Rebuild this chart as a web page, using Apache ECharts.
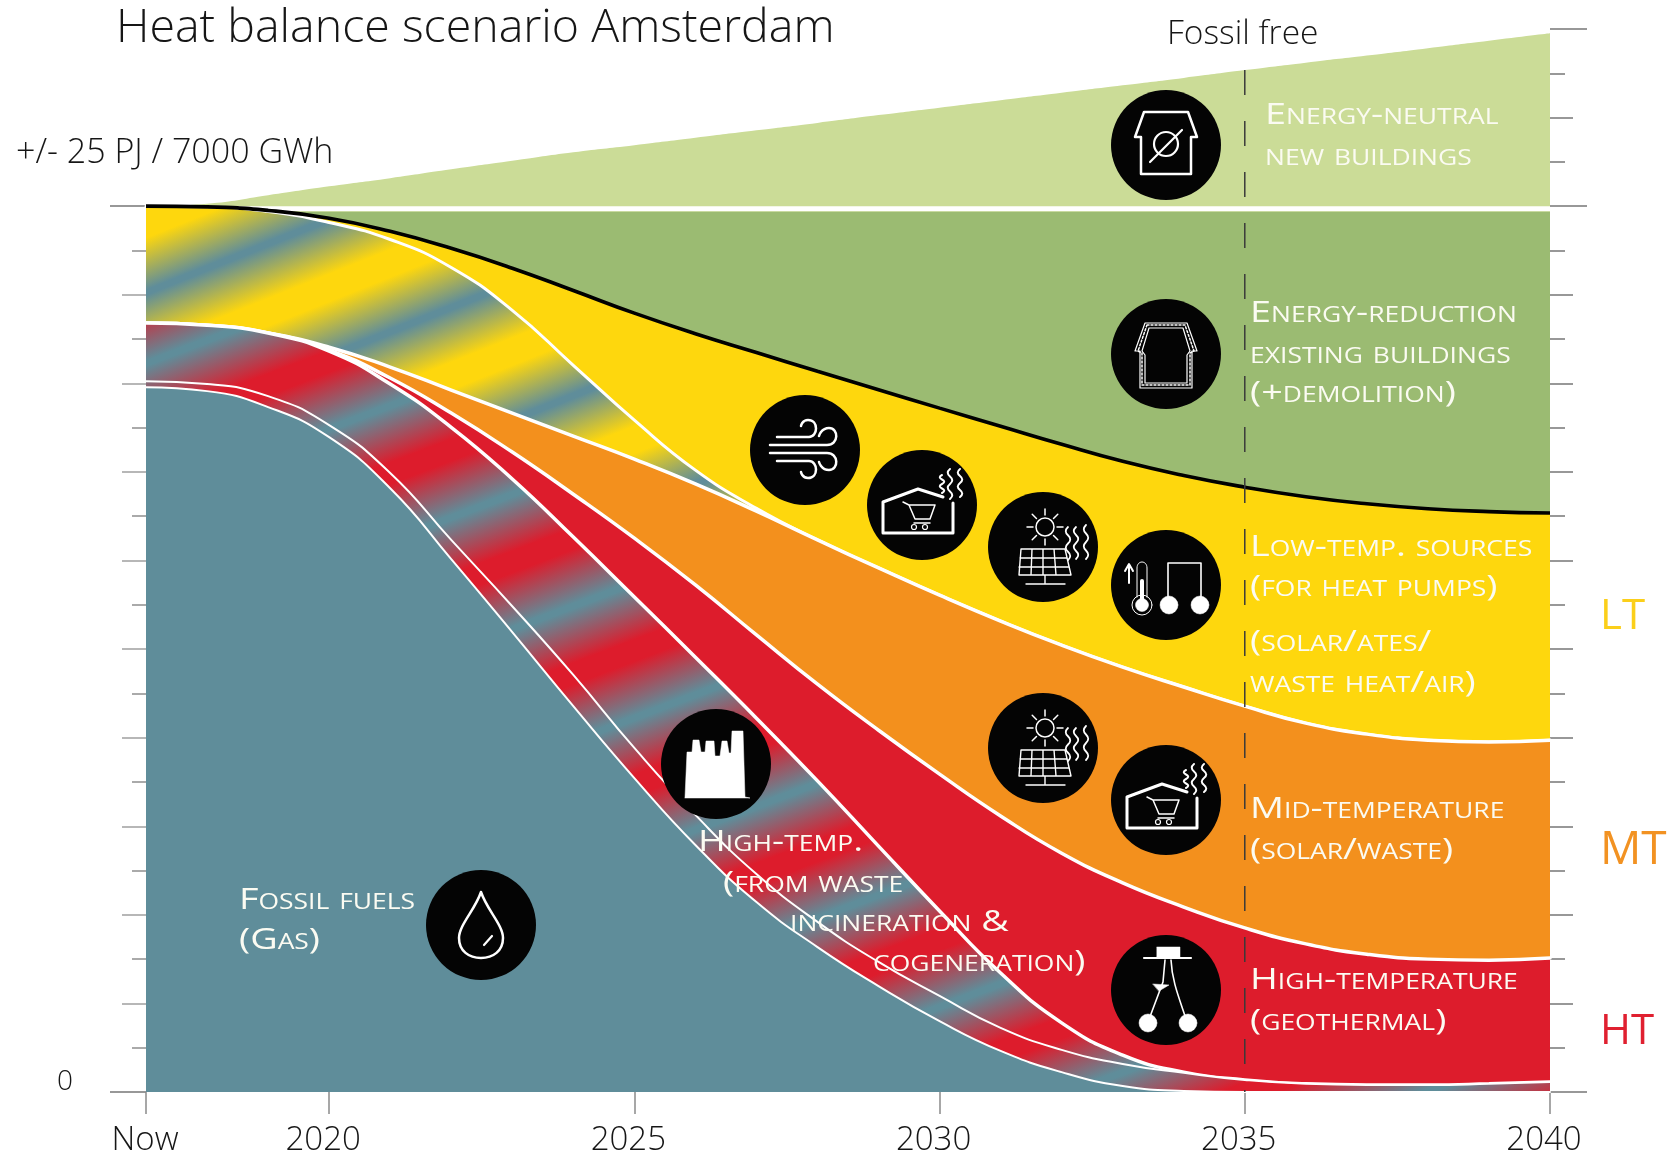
<!DOCTYPE html>
<html><head><meta charset="utf-8">
<style>html,body{margin:0;padding:0;background:#fff}#c{width:1676px;height:1157px}</style>
<script src="https://cdn.jsdelivr.net/npm/echarts@6/dist/echarts.min.js"></script>
</head><body><div id="c"></div>
<script>
// ---- data (PJ, cumulative upper edge of each layer) ----
const years = [2017,2018,2019,2020,2021,2022,2023,2024,2025,2026,2027,2028,2029,2030,2031,2032,2033,2034,2035,2036,2037,2038,2039,2040];
const newBuildingsTop = [25,25.07,25.31,25.56,25.79,26.04,26.28,26.52,26.72,26.93,27.14,27.35,27.57,27.78,27.99,28.20,28.41,28.62,28.84,29.05,29.25,29.46,29.67,29.88];
const flatYears = [2017,2040];
const gapLevel = [24.93,24.93];
const reductionLevel = [24.84,24.84];
const lowTempTop = [25,24.98,24.88,24.66,24.29,23.81,23.25,22.62,21.98,21.40,20.87,20.34,19.82,19.30,18.79,18.28,17.80,17.40,17.07,16.80,16.60,16.46,16.38,16.34];
const lowTempFossilTop = [25,24.98,24.85,24.54,24.06,23.27,22.06,20.51,18.96,17.55,16.47,15.58,14.79,14.02,13.29,12.61,11.99,11.43,10.89,10.41,10.10,9.93,9.88,9.93];
const midTempTop = [21.70,21.64,21.42,21.02,20.46,19.81,19.16,18.51,17.86,17.16,16.39,15.58,14.79,14.02,13.29,12.61,11.99,11.43,10.89,10.41,10.10,9.93,9.88,9.93];
const geothermalTop = [21.70,21.64,21.42,20.94,20.15,19.16,18.06,16.87,15.63,14.31,12.90,11.51,10.21,8.97,7.79,6.74,5.90,5.22,4.63,4.18,3.89,3.75,3.72,3.78];
const wasteHeatTop = [21.70,21.64,21.42,20.91,19.98,18.76,17.30,15.66,13.97,12.27,10.55,8.78,6.94,5.11,3.36,1.95,1.04,0.56,0.34,0.23,0.20,0.20,0.23,0.28];
const wasteHeatLowerTop = [20.06,19.98,19.64,18.82,17.47,15.58,13.71,11.77,9.71,7.82,6.15,4.80,3.67,2.71,1.81,1.19,0.79,0.54,0.34,0.23,0.20,0.20,0.23,0.28];
const fossilTop = [19.89,19.78,19.33,18.48,17.04,15.04,12.98,10.89,8.86,6.97,5.36,4.09,2.99,2.00,1.16,0.56,0.17,0.03,0,0,0,0,0,0];
const xTickYears = [2017,2020,2025,2030,2035,2040];
const nowYear = 2017;
const fossilFreeYear = [2035,2035];
const fossilFreeLevel = [28.84,0];
const shortTicksLeft = [1.25,3.75,6.25,8.75,11.25,13.75,16.25,18.75,21.25,23.75];
const shortTicksRight = [1.25,3.75,6.25,8.75,11.25,13.75,16.25,18.75,21.25,23.75,26.25,28.75];
const midTicksLeft = [2.5,5,7.5,10,12.5,15,17.5,20,22.5];
const midTicksRight = [2.5,5,7.5,10,12.5,15,17.5,20,22.5,27.5];
const longTicksLeft = [0,25];
const longTicksRight = [0,25,30];

const TEAL='#5f8d9a',RED='#dd1c2c',YEL='#fed70d',ORG='#f3901d',DGR='#9bbb72',LGR='#cbdc97';

function stripes(other, period, c0, halfFade, slope){
  const uMin=100,uMax=1800,D=uMax-uMin,k=D/(1+slope*slope);
  const stops=[];
  const add=(u,color)=>{const t=(u-uMin)/D; if(t>=0&&t<=1) stops.push({offset:t,color});};
  for(let c=c0-period*2;c<uMax+period;c+=period){
    add(c-period*halfFade,other);
    add(c-period*0.02,TEAL);
    add(c+period*0.02,TEAL);
    add(c+period*halfFade,other);
  }
  return new echarts.graphic.LinearGradient(0,uMin,k*slope,uMin+k,stops,true);
}
const pairs=(xs,ys)=>xs.map((x,i)=>[x,ys[i]]);
const SMOOTH=0.5;
const area=(name,vals,fill,lineColor,lineWidth,z)=>({
  name,type:'line',data:pairs(years,vals),smooth:SMOOTH,showSymbol:false,z,
  lineStyle:{color:lineColor,width:lineWidth,cap:'round'},
  areaStyle:{color:fill,opacity:1},silent:true,animation:false,clip:true
});
const series=[
  area('Energy-neutral new buildings',newBuildingsTop,LGR,LGR,0.01,2),
  {name:'gap',type:'line',data:pairs(flatYears,gapLevel),showSymbol:false,z:3,lineStyle:{color:'#fff',width:5},animation:false,silent:true},
  {name:'Energy-reduction existing buildings',type:'line',data:pairs(flatYears,reductionLevel),showSymbol:false,z:4,lineStyle:{width:0},areaStyle:{color:DGR,opacity:1},animation:false,silent:true},
  area('Low-temperature sources',lowTempTop,YEL,YEL,0.01,5),
  area('Low-temperature sources replacing fossil',lowTempFossilTop,stripes(YEL,137,351,0.4,0.4),'#fff',3,6),
  {name:'Reduction edge',type:'line',data:pairs(years,lowTempTop),smooth:SMOOTH,showSymbol:false,z:6.5,lineStyle:{color:'#000',width:3.6},animation:false,silent:true},
  area('Mid-temperature',midTempTop,ORG,'#fff',3.5,7),
  area('High-temperature geothermal',geothermalTop,RED,'#fff',3.5,8),
  area('High-temperature waste incineration and cogeneration',wasteHeatTop,stripes(RED,135,419,0.42,0.38),'#fff',3.5,9),
  area('High-temperature waste lower band',wasteHeatLowerTop,stripes(RED,135,419,0.42,0.38),'#fff',2,10),
  area('Fossil fuels (gas)',fossilTop,TEAL,'#fff',2,11),
  {name:'Fossil free',type:'line',data:pairs(fossilFreeYear,fossilFreeLevel),showSymbol:false,z:12,lineStyle:{color:'#3a3a3a',width:1.5,type:[25,26]},animation:false,silent:true}
];
const yAxisBase={type:'value',min:0,max:30,interval:1.25,axisLine:{show:false},splitLine:{show:false},axisLabel:{show:false}};
const yTick=(pos,vals,len,color)=>({...yAxisBase,position:pos,axisTick:{show:true,customValues:vals,length:len,lineStyle:{color,width:1.5}}});
const yAxes=[
  yTick('left',shortTicksLeft,14,'#8f8f8f'),
  yTick('left',midTicksLeft,24,'#a0a0a0'),
  yTick('left',longTicksLeft,36,'#777'),
  yTick('right',shortTicksRight,15,'#777'),
  yTick('right',midTicksRight,23,'#777'),
  yTick('right',longTicksRight,37,'#777')
];

// ---- icons ----
const W='#fff';
const st=(lw,fill)=>({stroke:W,lineWidth:lw,fill:fill||'none',lineCap:'round',lineJoin:'round'});
let pathCount=0;
const P=(d,lw,fill,extra)=>{
  const name='iconPath'+(pathCount++);
  echarts.graphic.registerShape(name,echarts.graphic.extendPath(d));
  return {type:name,z:52,style:Object.assign(st(lw,fill),extra||{})};
};
const O=(x,y,r,lw,fill)=>({type:'circle',z:52,shape:{cx:x,cy:y,r},style:st(lw,fill)});
const wave=(x,y0,y1,a)=>{const h=(y1-y0)/4;let d=`M${x},${y0}`;for(let i=0;i<4;i++){const s=i%2?a:-a;d+=` C${x+s},${y0+h*i+h*0.35} ${x+s},${y0+h*i+h*0.65} ${x},${y0+h*(i+1)}`;}return d;};
const rays=(cx,cy,r0,r1)=>{const p=[[1,0],[.71,.71],[0,1],[-.71,.71],[-1,0],[-.71,-.71],[0,-1],[.71,-.71]];return p.map(q=>`M${cx+q[0]*r0},${cy+q[1]*r0} L${cx+q[0]*r1},${cy+q[1]*r1}`).join(' ');};
const icons={
 wind:()=>[P('M-28,-13 L4,-13 C13,-13 14,-30 3,-30 C-3,-30 -4,-24 -4,-24',2.5),P('M-35,-5 L22,-5 C34,-5 34,-22 24,-22 C16,-22 14,-14 14,-14',2.5),P('M-35,3 L22,3 C34,3 34,20 24,20 C16,20 14,12 14,12',2.5),P('M-28,11 L4,11 C13,11 14,28 3,28 C-3,28 -4,22 -4,22',2.5)],
 shop:()=>[P('M21,-8 L-4,-16 L-39,-3 L-39,28 L31,28 L31,-2',3),P('M-19,-3 L-13,0 L-7,14 L8,14 L13,0 L-13,0 M-8,18 L8,18',1.5),O(-8,22,2.5,1.2),O(3,22,2.5,1.2),P(wave(20,-30,-12,3),2),P(wave(28,-36,-6,3),2),P(wave(38,-36,-8,3),2)],
 solar:()=>[O(2,-20,9,1.5),P(rays(2,-20,12,18),1.5),P('M-22,2 L22,2 L28,28 L-24,28 Z M-23,11 L24,11 M-24,20 L26,20 M-11,2 L-12,28 M0,2 L0,28 M11,2 L13,28 M2,28 L2,36 M-17,37 L22,37',1.4),P(wave(25,-20,13,3),1.8),P(wave(33,-20,12,3),1.8),P(wave(43,-22,12,3),1.8)],
 thermo:()=>[O(-24,20,10,1),O(-24,20,6.5,0.5,W),P('M-24,15 L-24,-4',4),P('M-29,12 L-29,-17 C-29,-25 -19,-25 -19,-17 L-19,12',1),P('M-37,-2 L-37,-20 M-41,-14 L-37,-21 L-33,-14',2),P('M2,13 L2,-22 L35,-22 L35,13',1.6),O(3,20,9,0.5,W),O(34,20,9,0.5,W)],
 neutral:()=>[P('M-22,-33 L22,-33 L31,-8 L25,-8 L25,29 L-25,29 L-25,-8 L-31,-8 Z',2.5),O(0,-1,12,2.2),P('M-16,17 L16,-15',2.2)],
 reduction:()=>[P('M-21,-31 L21,-31 L31,-3 L26,-3 L26,34 L-26,34 L-26,-3 L-31,-3 Z',1.2),P('M-17,-26 L17,-26 L24,-3 L21,1 L21,29 L-21,29 L-21,1 L-24,-3 Z',1.2),P('M-19,-29 L19,-29 L28,-3 L24,-1 L24,31 L-24,31 L-24,-1 L-28,-3 Z',1.5,null,{lineDash:[2,2]})],
 factory:()=>[P('M-31,33 L-29,-12 L-24,-12 L-23,-24 L-17,-24 L-15,-12 L-11,-12 L-10,-23 L-2,-23 L-1,-8 L4,-8 L6,-23 L11,-23 L13,-11 L15,-11 L16,-33 L27,-33 L29,33 L34,34 L-31,34 Z',0.5,W)],
 drop:()=>[P('M0,-33 C-6,-15 -22,0 -22,13 C-22,26 -12,33 0,33 C12,33 22,26 22,13 C22,0 6,-15 0,-33 Z',2.5),P('M11,11 L3,20',2.2)],
 geo:()=>[P('M-9,-43 L14,-43 L14,-33 L-9,-33 Z',0.5,W),P('M-22,-32 L25,-32',2.2),P('M-1,-30 L-3,-8 L-18,32',1.6),P('M5,-30 C6,-8 14,10 21,32',1.6),P('M-13,-6 L3,-5 L-7,1 Z',0.5,W),O(-18,33,9,0.5,W),O(22,33,9,0.5,W)]
};
const iconAt=(name,x,y)=>({type:'group',x,y,z:50,children:[{type:'circle',z:51,shape:{cx:0,cy:0,r:55},style:{fill:'#040404'}}].concat(icons[name]())});
const iconGroups=[
 iconAt('neutral',1166,145),iconAt('reduction',1166,354),iconAt('wind',805,450),iconAt('shop',922,505),
 iconAt('solar',1043,547),iconAt('thermo',1166,585),iconAt('solar',1043,748),iconAt('shop',1166,800),
 iconAt('geo',1166,990),iconAt('factory',716,764),iconAt('drop',481,925)
];
// ---- text ----
const TXT='#161616';
const FF='"Open Sans"';
const label=(text,x,y,size,fill,variant,weight,sx)=>({type:'text',x,y,z:60,scaleX:sx||1,style:{text,font:`${variant?'small-caps ':''}${weight||400} ${size}px ${FF}`,fill,align:'left',verticalAlign:'middle'}});
const CAP='#fbfbf2';
const labels=[
 ['Energy-neutral',1265,115],['new buildings',1265,156],
 ['Energy-reduction',1250,313],['existing buildings',1250,354],['(+demolition)',1250,393],
 ['Low-temp. sources',1250,547],['(for heat pumps)',1250,587],['(solar/ates/',1250,642],['waste heat/air)',1250,683],
 ['Mid-temperature',1250,809],['(solar/waste)',1250,850],
 ['High-temperature',1250,980],['(geothermal)',1250,1021],
 ['Fossil fuels',239,900],['(Gas)',239,940],
 ['High-temp.',698,842],['(from waste',723,883],['incineration &',790,922],['cogeneration)',873,962]
].map(a=>label(a[0],a[1],a[2],30,CAP,true,500,1.26));
const others=[
 label('Fossil free',1167,34,33.5,TXT,false,300),
 label('+/- 25 PJ / 7000 GWh',16,153,34,TXT,false,300),
 label('0',57,1082,28,TXT,false,300),
 label('LT',1600,617,42,'#fbcf1a'),
 label('MT',1600,851,46,'#f29222'),
 label('HT',1600,1032,42,'#e02030')
];
const chart=echarts.init(document.getElementById('c'),null,{renderer:'canvas'});
chart.setOption({
 animation:false,backgroundColor:'#fff',
 title:{text:'Heat balance scenario Amsterdam',left:111,top:0,textStyle:{fontFamily:FF,fontWeight:300,fontSize:46.5,color:TXT}},
 grid:{left:146,right:126,top:29,bottom:65,containLabel:false},
 xAxis:{type:'value',min:2017,max:2040,interval:1,splitLine:{show:false},axisLine:{show:false},
   axisTick:{show:true,customValues:xTickYears,length:22,lineStyle:{color:'#8a8a8a',width:1.5}},
   axisLabel:{show:true,customValues:xTickYears,margin:32,padding:[0,12,0,0],fontFamily:FF,fontWeight:300,fontSize:33,color:TXT,
     formatter:v=>v===nowYear?'{now|Now}':String(v),
     rich:{now:{fontFamily:FF,fontWeight:300,fontSize:33,color:TXT,padding:[0,0,0,10]}},
     hideOverlap:false,showMinLabel:true,showMaxLabel:true}},
 yAxis:yAxes,
 series,
 graphic:{elements:iconGroups.concat(labels,others)}
});
</script></body></html>
